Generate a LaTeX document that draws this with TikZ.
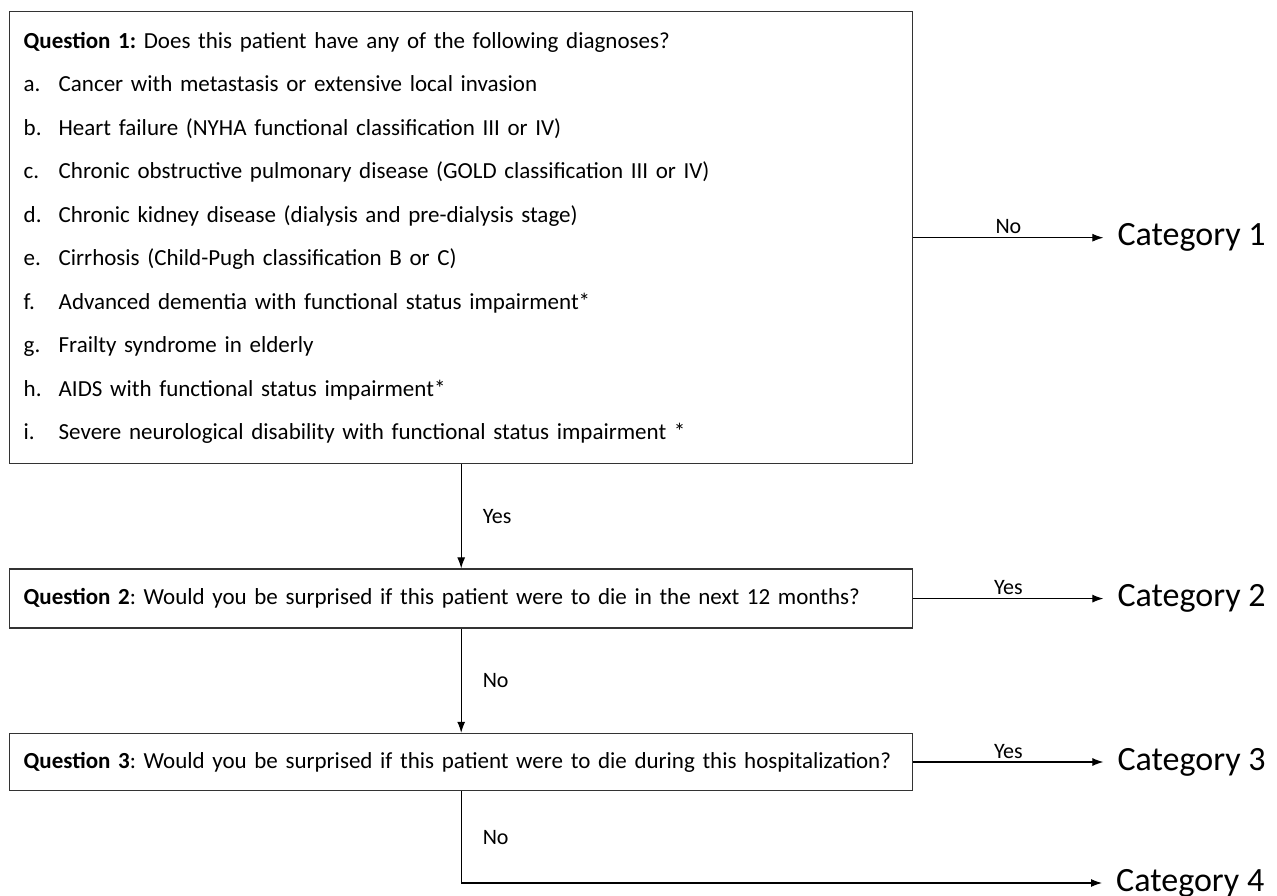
\documentclass[tikz,border=0pt]{standalone}
\usepackage{fontspec}
\setmainfont{Carlito}
\frenchspacing
\usetikzlibrary{arrows.meta,positioning}
\tikzset{
        >={Latex[length=11pt,width=8pt]}, % small filled arrow heads
        x=1pt, y=-1pt, % measure in points, from the top left corner
        question/.style={draw=black!80, line width=1.4pt, align=left, text width=875pt,
          inner xsep=14pt, inner ysep=0pt, font=\fontsize{23}{27}\selectfont},
        category/.style={anchor=west, inner xsep=14pt, inner ysep=0pt, font=\fontsize{34}{38}\selectfont},
        answer/.style={font=\fontsize{22}{26}\selectfont, inner sep=3pt},
        link/.style={->, line width=1.1pt},
    }
\newcommand{\itm}[1]{\makebox[35pt][l]{#1}}

\begin{document}
\begin{tikzpicture}
    \useasboundingbox (0,0) rectangle (1277,896);
    \node[question, anchor=north west, minimum height=452pt, font=\fontsize{23}{43.5}\selectfont] (q1) at (9,11) {%
      \textbf{Question 1:} Does this patient have any of the following diagnoses?\\
      \itm{a.}Cancer with metastasis or extensive local invasion\\
      \itm{b.}Heart failure (NYHA functional classification III or IV)\\
      \itm{c.}Chronic obstructive pulmonary disease (GOLD classification III or IV)\\
      \itm{d.}Chronic kidney disease (dialysis and pre-dialysis stage)\\
      \itm{e.}Cirrhosis (Child-Pugh classification B or C)\\
      \itm{f.}Advanced dementia with functional status impairment*\\
      \itm{g.}Frailty syndrome in elderly\\
      \itm{h.}AIDS with functional status impairment*\\
      \itm{i.}Severe neurological disability with functional status impairment *};
    \node[question, minimum height=59pt, below=104pt of q1] (q2)
      {\textbf{Question 2}: Would you be surprised if this patient were to die in the next 12 months?};
    \node[question, minimum height=57pt, below=104pt of q2] (q3)
      {\textbf{Question 3}: Would you be surprised if this patient were to die during this hospitalization?};

    \node[category, right=190pt of q1.east] (c1) {Category 1};
    \node[category, right=190pt of q2.east] (c2) {Category 2};
    \node[category, right=190pt of q3.east] (c3) {Category 3};
    \node[category] (c4) at (1102,883) {Category 4};

    \draw[link] (q1.east) -- node[answer, above] {No} (c1.west);
    \draw[link] (q1.south) -- node[answer, right=18pt] {Yes} (q2.north);
    \draw[link] (q2.east) -- node[answer, above] {Yes} (c2.west);
    \draw[link] (q2.south) -- node[answer, right=18pt] {No} (q3.north);
    \draw[link] (q3.east) -- node[answer, above] {Yes} (c3.west);
    \draw[link] (q3.south) |- node[answer, pos=0.25, right=18pt] {No} (c4.west);
\end{tikzpicture}
\end{document}
